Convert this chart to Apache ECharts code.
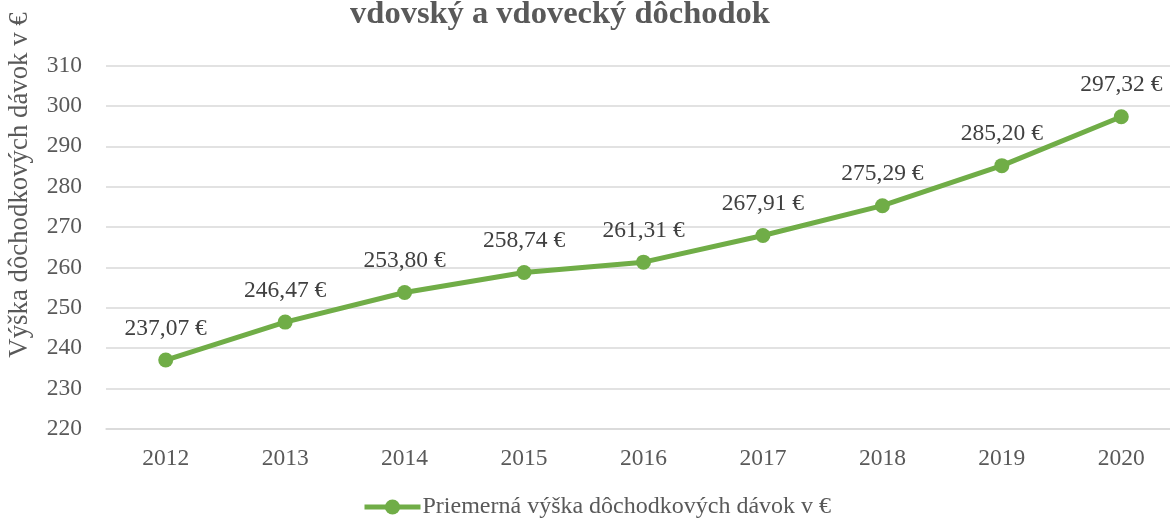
<!DOCTYPE html>
<html><head><meta charset="utf-8">
<script src="https://cdn.jsdelivr.net/npm/echarts@6/dist/echarts.min.js"></script>
<style>html,body{margin:0;padding:0;background:#fff;overflow:hidden}#c{width:1190px;height:522px}</style>
</head><body><div id="c"></div>
<script>
const years = ['2012','2013','2014','2015','2016','2017','2018','2019','2020'];
const values = [237.07, 246.47, 253.80, 258.74, 261.31, 267.91, 275.29, 285.20, 297.32];
const seriesName = 'Priemerná výška dôchodkových dávok v €';
const titleText = 'vdovský a vdovecký dôchodok';
const yAxisTitle = 'Výška dôchodkových dávok v €';

const font = '"Liberation Serif", "Times New Roman", serif';
const chart = echarts.init(document.getElementById('c'));
chart.setOption({
  animation: false,
  textStyle: {fontFamily: font},
  title: {text: titleText, left: 555, top: -7, textAlign: 'center',
    textStyle: {fontFamily: font, fontSize: 32.5, fontWeight: 'bold', color: '#595959'}},
  grid: {left: 106, top: 65.5, width: 1075, height: 363.5, containLabel: false},
  legend: {top: 490, left: 357, itemWidth: 56, itemHeight: 19, itemGap: 0,
    lineStyle: {width: 5},
    textStyle: {fontFamily: font, fontSize: 24, color: '#595959', padding: [0,0,0,-3]},
    data: [seriesName]},
  xAxis: {type: 'category', data: years, boundaryGap: true,
    axisLine: {lineStyle: {color: '#d9d9d9', width: 1.5}}, axisTick: {show: false},
    axisLabel: {fontFamily: font, fontSize: 23.5, color: '#595959', margin: 18}},
  yAxis: {type: 'value', min: 220, max: 310, interval: 10,
    axisLine: {show: false}, axisTick: {show: false},
    splitLine: {lineStyle: {color: '#d9d9d9', width: 1.5}},
    axisLabel: {fontFamily: font, fontSize: 23.5, color: '#595959', margin: 24}},
  graphic: [{type: 'text', x: 20, y: 185, rotation: Math.PI/2,
    style: {text: yAxisTitle, fontFamily: font, fontSize: 26.8, fill: '#595959',
      align: 'center', verticalAlign: 'middle'}}],
  series: [{name: seriesName, type: 'line', data: values,
    lineStyle: {color: '#70AD47', width: 5},
    itemStyle: {color: '#70AD47'},
    symbol: 'circle', symbolSize: 15,
    label: {show: true, position: 'top', distance: 12, fontFamily: font, fontSize: 23.5,
      color: '#404040',
      formatter: p => p.value.toFixed(2).replace('.', ',') + ' €'}}]
});
</script></body></html>
